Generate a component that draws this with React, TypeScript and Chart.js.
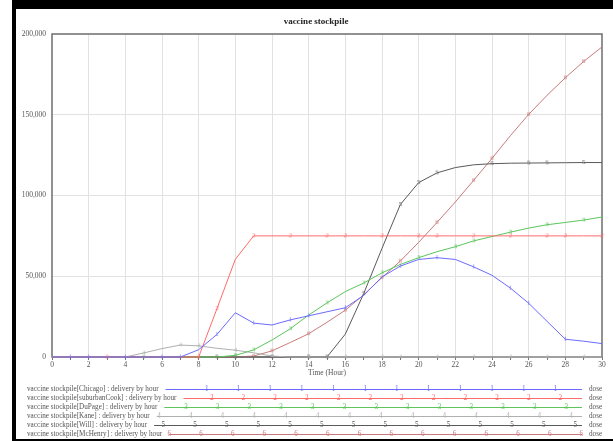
import React, { useEffect, useRef } from 'react';
import { Chart, registerables } from 'chart.js';

Chart.register(...registerables);

const hours = [0, 1, 2, 3, 4, 5, 6, 7, 8, 9, 10, 11, 12, 13, 14, 15, 16, 17, 18, 19, 20, 21, 22, 23, 24, 25, 26, 27, 28, 29, 30];

const chicago = [0, 0, 0, 0, 0, 0, 0, 0, 4500, 14000, 27400, 21000, 19800, 23000, 25500, 28000, 30500, 38100, 49600, 56300, 60400, 61500, 60400, 55800, 50600, 42700, 33300, 22100, 11000, 9800, 8300];
const suburbanCook = [0, 0, 0, 0, 0, 0, 0, 0, 0, 30000, 60500, 75000, 75000, 75000, 75000, 75000, 75000, 75000, 75000, 75000, 75000, 75000, 75000, 75000, 75000, 75000, 75000, 75000, 75000, 75000, 75000];
const duPage = [0, 0, 0, 0, 0, 0, 0, 0, 0, 0, 1000, 4400, 10500, 17500, 26000, 33500, 40500, 45800, 52100, 57300, 61500, 65200, 68300, 71900, 74600, 77300, 79800, 81900, 83300, 84800, 86700];
const kane = [0, 0, 0, 0, 0, 2500, 5200, 7400, 6900, 5400, 4200, 2600, 600, 0, 0, 0, 0, 0, 0, 0, 0, 0, 0, 0, 0, 0, 0, 0, 0, 0, 0];
const will = [0, 0, 0, 0, 0, 0, 0, 0, 0, 0, 0, 0, 0, 0, 0, 0, 14200, 39200, 67300, 94400, 108000, 114000, 117300, 119000, 119700, 120000, 120100, 120200, 120300, 120400, 120400];
const mcHenry = [0, 0, 0, 0, 0, 0, 0, 0, 0, 0, 0, 600, 3800, 9000, 14400, 21500, 29000, 38500, 49200, 59400, 71000, 83300, 96000, 109400, 123000, 137000, 150200, 162000, 172900, 183000, 192000];

const seriesLabels = [
  'vaccine stockpile[Chicago] : delivery by hour',
  'vaccine stockpile[suburbanCook] : delivery by hour',
  'vaccine stockpile[DuPage] : delivery by hour',
  'vaccine stockpile[Kane] : delivery by hour',
  'vaccine stockpile[Will] : delivery by hour',
  'vaccine stockpile[McHenry] : delivery by hour',
];
const seriesDigits = ['1', '2', '3', '4', '5', '6'];
const markerHours = [
  [1, 2, 4, 6, 7, 9, 11, 13, 14, 16, 19, 21, 23, 25, 26, 28],
  [3, 8, 9, 11, 13, 15, 16, 18, 20, 21, 23, 25, 27, 28, 30],
  [5, 10, 11, 13, 15, 17, 18, 20, 22, 23, 25, 27, 29],
  [5, 7, 8, 10, 12, 14, 16, 18, 19, 21, 23, 25, 27, 29],
  [9, 10, 12, 14, 15, 17, 19, 20, 21, 24, 26, 27, 29],
  [11, 12, 14, 16, 18, 19, 21, 23, 24, 26, 28, 29],
];
const yTicks = [0, 50000, 100000, 150000, 200000];
const titleText = 'vaccine stockpile';
const xTitle = 'Time (Hour)';
const unitText = 'dose';

const COLORS = ['#6b6bff', '#ff6b6b', '#5cc55c', '#b0b0b0', '#5a5a5a', '#c97b7b'];
const LEGEND_PHASE = [206.7, 211.7, 186, 159, 163.3, 169.3];
const FONT = '"Liberation Serif", "DejaVu Serif", serif';

function makeMarker(d: string, color: string) {
  const c = document.createElement('canvas');
  c.width = 7;
  c.height = 9;
  const x = c.getContext('2d')!;
  x.fillStyle = color;
  x.font = `7px ${FONT}`;
  x.textAlign = 'center';
  x.textBaseline = 'middle';
  x.fillText(d, 3.5, 4.5);
  return c;
}

const framePlugin = {
  id: 'vensimFrame',
  beforeDraw(chart: any) {
    const ctx = chart.ctx;
    ctx.save();
    ctx.fillStyle = '#ffffff';
    ctx.fillRect(0, 0, chart.width, chart.height);
    ctx.fillStyle = '#000000';
    ctx.fillRect(12, 0, chart.width - 12, 9);
    ctx.fillRect(12, 0, 4, chart.height);
    ctx.fillRect(12, chart.height - 2, chart.width - 12, 2);
    ctx.restore();
  },
  beforeDatasetsDraw(chart: any) {
    const { ctx, chartArea: a } = chart;
    ctx.save();
    ctx.strokeStyle = '#6e6e6e';
    ctx.lineWidth = 1.5;
    ctx.strokeRect(a.left, a.top, a.right - a.left, a.bottom - a.top);
    ctx.restore();
  },
  afterDraw(chart: any) {
    const { ctx, chartArea: a } = chart;
    ctx.save();
    ctx.fillStyle = '#222';
    ctx.font = `bold 9px ${FONT}`;
    ctx.textAlign = 'center';
    ctx.textBaseline = 'middle';
    ctx.fillText(titleText, 316, 22);

    ctx.fillStyle = '#555';
    ctx.font = `7.5px ${FONT}`;
    ctx.fillText(xTitle, (a.left + a.right) / 2, 373);

    ctx.font = `7.2px ${FONT}`;
    ctx.textAlign = 'left';
    const lineEnd = 582;
    seriesLabels.forEach((label, i) => {
      const y = 389.5 + i * 9;
      ctx.fillStyle = '#555';
      ctx.fillText(label, 27, y);
      const start = 27 + ctx.measureText(label).width + 7;
      ctx.strokeStyle = COLORS[i];
      ctx.lineWidth = 1;
      ctx.beginPath();
      ctx.moveTo(start, y);
      ctx.lineTo(lineEnd, y);
      ctx.stroke();
      ctx.fillStyle = COLORS[i];
      ctx.textAlign = 'center';
      for (let x = LEGEND_PHASE[i]; x <= lineEnd; x += 31.7) {
        ctx.fillText(seriesDigits[i], x, y);
      }
      ctx.textAlign = 'left';
      ctx.fillStyle = '#555';
      ctx.fillText(unitText, 589, y);
    });
    ctx.restore();
  },
};

export default function App() {
  const ref = useRef<HTMLCanvasElement>(null);
  useEffect(() => {
    if (!ref.current) return;
    const all = [chicago, suburbanCook, duPage, kane, will, mcHenry];
    const datasets = all.map((vals, i) => {
      const marker = makeMarker(seriesDigits[i], COLORS[i]);
      const mh = markerHours[i];
      return {
        label: seriesLabels[i],
        data: hours.map((h, j) => ({ x: h, y: vals[j] })),
        borderColor: COLORS[i],
        backgroundColor: COLORS[i],
        borderWidth: 1,
        tension: 0,
        fill: false,
        pointStyle: marker as any,
        pointRadius: (c: any) => (mh.includes(hours[c.dataIndex]) ? 3 : 0),
        pointHoverRadius: 0,
        clip: false as any,
      };
    });
    const chart = new Chart(ref.current, {
      type: 'line',
      data: { datasets: datasets as any },
      options: {
        animation: false,
        responsive: false,
        devicePixelRatio: 1,
        events: [],
        layout: { padding: { left: 0, right: 11, top: 34, bottom: 0 } },
        plugins: { legend: { display: false }, tooltip: { enabled: false }, title: { display: false } },
        scales: {
          x: {
            type: 'linear',
            min: 0,
            max: 30,
            border: { display: false },
            grid: {
              color: (c: any) =>
                c.tick && c.tick.value % 2 === 0 && c.tick.value > 0 && c.tick.value < 30 ? '#e2e2e2' : 'rgba(0,0,0,0)',
              tickColor: '#777',
              tickLength: 3,
              drawTicks: true,
            },
            ticks: {
              stepSize: 1,
              autoSkip: false,
              maxRotation: 0,
              padding: 1,
              color: '#555',
              font: { family: FONT, size: 7.5 },
              callback: (v: any) => (Number(v) % 2 === 0 ? String(v) : ''),
            },
            afterFit: (s: any) => {
              s.height = 84;
            },
          },
          y: {
            min: yTicks[0],
            max: yTicks[yTicks.length - 1],
            border: { display: false },
            afterBuildTicks: (s: any) => {
              s.ticks = yTicks.map((v) => ({ value: v }));
            },
            grid: {
              color: (c: any) =>
                c.tick && c.tick.value > 0 && c.tick.value < 200000 ? '#e2e2e2' : 'rgba(0,0,0,0)',
              drawTicks: false,
            },
            ticks: {
              padding: 6,
              color: '#555',
              font: { family: FONT, size: 7.5 },
              callback: (v: any) => Number(v).toLocaleString('en-US'),
            },
            afterFit: (s: any) => {
              s.width = 52;
            },
          },
        },
      },
      plugins: [framePlugin],
    });
    return () => chart.destroy();
  }, []);
  return (
    <div style={{ position: 'fixed', left: 0, top: 0, width: 613, height: 441, background: '#fff' }}>
      <canvas ref={ref} width={613} height={441} style={{ display: 'block', width: 613, height: 441 }} />
    </div>
  );
}
